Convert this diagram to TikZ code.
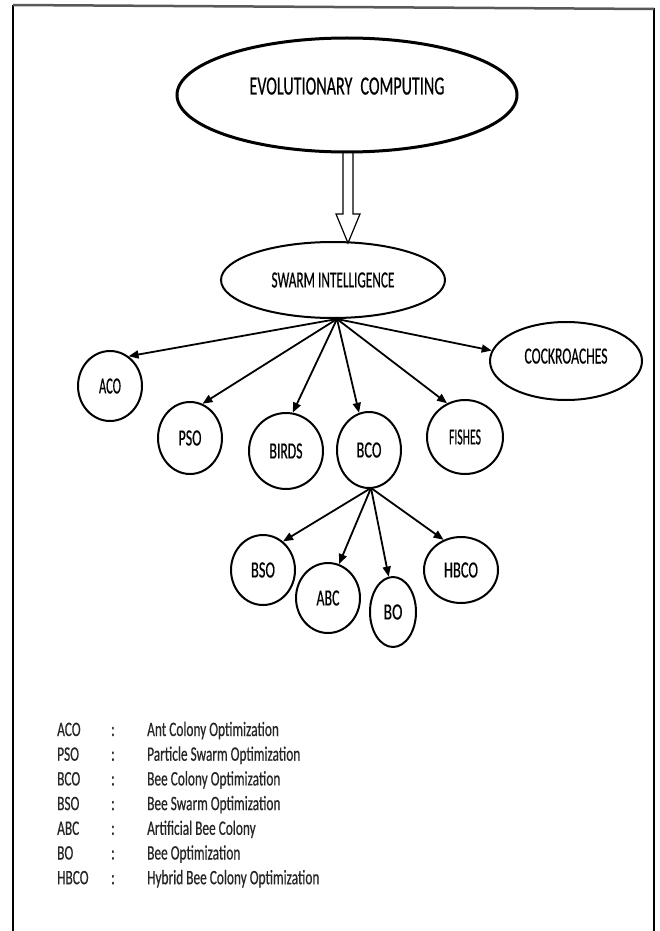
\documentclass[tikz,border=0pt]{standalone}
\usepackage{graphicx}
\usepackage{fontspec}
\setmainfont{Carlito}
\newfontfamily\carl[FakeBold=0.6]{Carlito}
\newfontfamily\legf[FakeStretch=0.65,FakeBold=0.5]{Carlito}
\usetikzlibrary{shapes.geometric,arrows.meta,calc}
\newcommand\fitl[3]{\resizebox{#1pt}{#2pt}{\carl #3}}
\begin{document}
\begin{tikzpicture}[x=1pt,y=-1pt,
  ell/.style={draw, ellipse, line width=2pt, inner sep=0pt},
  arr/.style={line width=1.8pt, -{Triangle[length=10pt,width=8pt]}},
  hollow/.style={line width=1.2pt, line join=miter},
  frame/.style={line width=1.5pt},
  leg/.style={anchor=west, inner sep=0pt, text height=13pt, text depth=3pt, font=\legf\fontsize{20.5}{22}\selectfont, text=black!85}]
\useasboundingbox (0,0) rectangle (660,931);
% frame
\draw[frame] (13,5) -- (13,931);
\draw[frame] (654,8) -- (654,931);
\draw[line width=2.5pt, black!65] (13,5) -- (654,9);
% nodes
\node[ell, line width=3pt, minimum width=340, minimum height=114] (ec) at (347,95) {\raisebox{18pt}{\fitl{195}{17}{EVOLUTIONARY\hspace{0.5em}COMPUTING}}};
\node[ell, minimum width=224, minimum height=76] (si) at (333,280) {\fitl{123}{15}{SWARM INTELLIGENCE}};
\node[ell, minimum width=152, minimum height=78] (cock) at (566,361) {\raisebox{10pt}{\fitl{83}{15}{COCKROACHES}}};
\node[ell, minimum width=64, minimum height=70] (aco) at (110,386) {\fitl{22}{15}{ACO}};
\node[ell, minimum width=64, minimum height=72] (pso) at (190,438) {\fitl{23}{15}{PSO}};
\node[ell, minimum width=74, minimum height=76] (birds) at (286,451) {\fitl{33}{15}{BIRDS}};
\node[ell, minimum width=64, minimum height=76] (bco) at (369,450) {\fitl{25}{15}{BCO}};
\node[ell, minimum width=76, minimum height=74] (fishes) at (465,437) {\fitl{32}{15}{FISHES}};
\node[ell, minimum width=64, minimum height=70] (bso) at (263,570) {\fitl{24}{15}{BSO}};
\node[ell, minimum width=64, minimum height=70] (abc) at (328,598) {\fitl{23}{15}{ABC}};
\node[ell, minimum width=46, minimum height=70] (bo) at (393,612) {\fitl{19}{15}{BO}};
\node[ell, minimum width=74, minimum height=66] (hbco) at (461,570) {\fitl{34}{15}{HBCO}};
% hollow arrow
\coordinate (tip) at (348,243);
\draw[hollow] ($(tip)+(-5,-91)$) -- ($(tip)+(-5,-29)$) -- ($(tip)+(-12,-29)$) -- (tip)
  -- ($(tip)+(12,-29)$) -- ($(tip)+(5,-29)$) -- ($(tip)+(5,-91)$);
% connectors
\coordinate (siB) at (337,319);
\coordinate (bcoB) at (371,488);
\draw[arr] (siB) -- (aco.58);
\draw[arr] (siB) -- (pso.70);
\draw[arr] (siB) -- (birds.80);
\draw[arr] (siB) -- (bco.105);
\draw[arr] (siB) -- (fishes.118);
\draw[arr] (siB) -- (cock.172);
\draw[arr] (bcoB) -- (bso.55);
\draw[arr] (bcoB) -- (abc.72);
\draw[arr] (bcoB) -- (bo.97);
\draw[arr] (bcoB) -- (hbco.120);
% legend
\foreach \ab/\de [count=\i from 0] in {ACO/Ant Colony Optimization, PSO/Particle Swarm Optimization, BCO/Bee Colony Optimization, BSO/Bee Swarm Optimization, ABC/Artificial Bee Colony, BO/Bee Optimization, HBCO/Hybrid Bee Colony Optimization}{
  \node[leg] (ab\i) at (57,{731+24.7*\i}) {\ab};
  \node[leg] (co\i) at (111,{731+24.7*\i}) {:};
  \node[leg] (de\i) at (147,{731+24.7*\i}) {\de};
}
\end{tikzpicture}
\end{document}
